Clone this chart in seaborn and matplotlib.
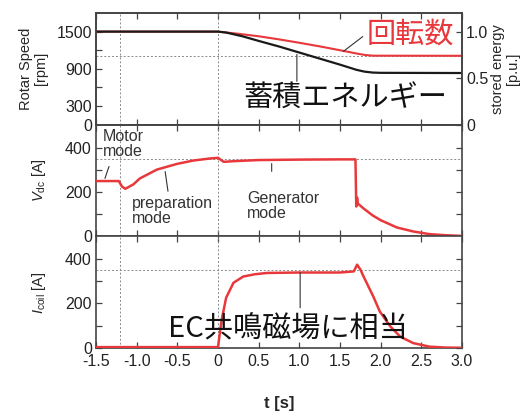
import numpy as np
import matplotlib
matplotlib.use("Agg")
import matplotlib.pyplot as plt
import seaborn as sns

# values
t_speed = [-1.5, 0.0, 0.25, 0.5, 0.75, 1.0, 1.25, 1.5, 1.7, 1.8, 1.9, 3.0]
speed_rpm = [1500, 1500, 1465, 1425, 1375, 1320, 1262, 1200, 1148, 1125, 1112, 1110]

t_energy = [-1.5, 0.0, 0.1, 0.3, 0.5, 0.75, 1.0, 1.25, 1.5, 1.7, 1.8, 1.9, 2.0, 3.0]
energy_pu = [1.0, 1.0, 0.99, 0.95, 0.90, 0.84, 0.775, 0.71, 0.645, 0.59, 0.57, 0.56, 0.557, 0.555]

t_vdc = [-1.5, -1.22, -1.18, -1.14, -1.04, -0.96, -0.75, -0.5, -0.3, -0.1, 0.0, 0.07,
         0.2, 0.5, 1.0, 1.5, 1.69, 1.70, 1.71, 1.72, 1.79, 1.9, 2.0, 2.2, 2.4, 2.6, 2.8, 3.0]
vdc = [250, 250, 225, 215, 235, 262, 302, 328, 343, 352, 355, 337,
       340, 345, 347, 348, 348, 135, 175, 148, 126, 95, 73, 40, 22, 10, 5, 2]

t_coil = [-1.5, 0.0, 0.02, 0.045, 0.1, 0.19, 0.31, 0.45, 0.6, 1.0, 1.5, 1.67, 1.71, 1.75,
          1.79, 1.91, 1.99, 2.12, 2.24, 2.4, 2.6, 2.8, 3.0]
i_coil = [4, 4, 60, 126, 225, 292, 320, 330, 336, 338, 338, 343, 373, 352,
          320, 230, 163, 96, 51, 22, 6, 2, 1]

x_ticks = [-1.5, -1.0, -0.5, 0.0, 0.5, 1.0, 1.5, 2.0, 2.5, 3.0]
x_ticklabels = ["-1.5", "-1.0", "-0.5", "0", "0.5", "1.0", "1.5", "2.0", "2.5", "3.0"]
mode_lines = [-1.2, 0.0]

RED = "#e8383b"
FRAME = "#444444"
GRID = "#8a8a8a"

sns.set_theme(style="ticks")
plt.rcParams['font.family'] = ['Liberation Sans', 'Noto Sans CJK JP']
plt.rcParams['mathtext.fontset'] = 'custom'
plt.rcParams['mathtext.rm'] = 'Liberation Sans'
plt.rcParams['mathtext.it'] = 'Liberation Sans:italic'
JP = ['Noto Sans CJK JP', 'DejaVu Sans']


def leader(ax, p0, p1):
    # thin pointer line from a label to its curve
    ax.annotate("", xy=p0, xytext=p1,
                arrowprops=dict(arrowstyle='-', color='#333', lw=0.8,
                                shrinkA=0, shrinkB=0))


fig = plt.figure(figsize=(5.31, 4.16), dpi=100)
gs = fig.add_gridspec(3, 1, left=96/531, right=462/531, top=1-13/416,
                      bottom=1-348/416, hspace=0)
ax1 = fig.add_subplot(gs[0])
ax2 = fig.add_subplot(gs[1], sharex=ax1)
ax3 = fig.add_subplot(gs[2], sharex=ax1)

for ax in (ax1, ax2, ax3):
    ax.tick_params(direction='in', length=4, width=0.9, top=True, right=True,
                   labelsize=11.5, pad=3, color=FRAME, labelcolor='#222')
    for s in ax.spines.values():
        s.set_color(FRAME)
        s.set_linewidth(1.2)
    for xv in mode_lines:
        ax.axvline(xv, color=GRID, ls=(0, (2, 2)), lw=0.7, zorder=1)
    ax.yaxis.set_label_coords(-0.13, 0.5)

# top panel: rotor speed + stored energy
ax1r = ax1.twinx()
sns.lineplot(x=t_speed, y=speed_rpm, ax=ax1, color=RED, lw=1.5, zorder=3)
sns.lineplot(x=t_energy, y=energy_pu, ax=ax1r, color='#1a1a1a', lw=1.6)
ax1.axhline(1100, color=GRID, ls=(0, (2, 2)), lw=0.7, zorder=1)
ax1.set_ylim(0, 1800)
ax1.set_yticks([0, 300, 600, 900, 1200, 1500])
ax1.set_yticklabels(['0', '300', '', '900', '', '1500'])
ax1.set_ylabel("Rotar Speed\n[rpm]", fontsize=10.5, linespacing=1.1)
ax1.tick_params(labelbottom=False)

ax1r.set_ylim(0, 1.2)
ax1r.set_yticks([0, 0.5, 1.0])
ax1r.set_yticklabels(['0', '0.5', '1.0'])
ax1r.tick_params(direction='in', length=4, width=0.9, labelsize=11.5, pad=3,
                 color=FRAME, labelcolor='#222')
for s in ax1r.spines.values():
    s.set_color(FRAME)
    s.set_linewidth(1.2)
ax1r.set_ylabel("stored energy\n[p.u.]", fontsize=10.5, linespacing=1.1)
ax1r.yaxis.set_label_coords(1.08, 0.5)

ax1.text(1.83, 1453, "回転数", color=RED, fontsize=21, family=JP,
         ha='left', va='center')
leader(ax1, (1.54, 1180), (1.78, 1420))
ax1.text(0.31, 409, "蓄積エネルギー", color='#111', fontsize=21, family=JP,
         ha='left', va='center')
leader(ax1, (0.97, 1132), (0.97, 698))

# middle panel: DC voltage
sns.lineplot(x=t_vdc, y=vdc, ax=ax2, color=RED, lw=1.8, sort=False, estimator=None, zorder=3)
ax2.axhline(350, color=GRID, ls=(0, (2, 2)), lw=0.7, zorder=1)
ax2.set_ylim(0, 505)
ax2.set_yticks([0, 100, 200, 300, 400])
ax2.set_yticklabels(['0', '', '200', '', '400'])
ax2.set_ylabel(r"$V_{\mathrm{dc}}$ [A]", fontsize=10.5)
ax2.tick_params(labelbottom=False)

ax2.text(-1.415, 487, "Motor\nmode", fontsize=11.5, color='#333', ha='left', va='top',
         linespacing=1.0)
leader(ax2, (-1.39, 262), (-1.34, 316))
ax2.text(-1.057, 181, "preparation\nmode", fontsize=11.5, color='#333', ha='left',
         va='top', linespacing=1.0)
leader(ax2, (-0.65, 293), (-0.615, 204))
ax2.text(0.357, 207, "Generator\nmode", fontsize=11.5, color='#333', ha='left',
         va='top', linespacing=1.0)
leader(ax2, (0.66, 329), (0.66, 294))

# bottom panel: coil current
sns.lineplot(x=t_coil, y=i_coil, ax=ax3, color=RED, lw=1.8, sort=False, estimator=None, zorder=3)
ax3.axhline(350, color=GRID, ls=(0, (2, 2)), lw=0.7, zorder=1)
ax3.set_ylim(0, 500)
ax3.set_yticks([0, 100, 200, 300, 400])
ax3.set_yticklabels(['0', '', '200', '', '400'])
ax3.set_ylabel(r"$I_{\mathrm{coil}}$ [A]", fontsize=10.5)
ax3.set_xlim(-1.5, 3.0)
ax3.set_xticks(x_ticks)
ax3.set_xticklabels(x_ticklabels)
ax3.tick_params(axis='x', pad=4)
ax3.set_xlabel("t [s]", fontsize=12, fontweight='bold')
ax3.xaxis.set_label_coords(0.5, -0.43)
ax3.xaxis.label.set_va('top')

ax3.text(-0.615, 81, "EC共鳴磁場に相当", color='#111', fontsize=21, family=JP,
         ha='left', va='center')
leader(ax3, (1.01, 338), (1.01, 180))

fig.savefig("out.png", dpi=100)
